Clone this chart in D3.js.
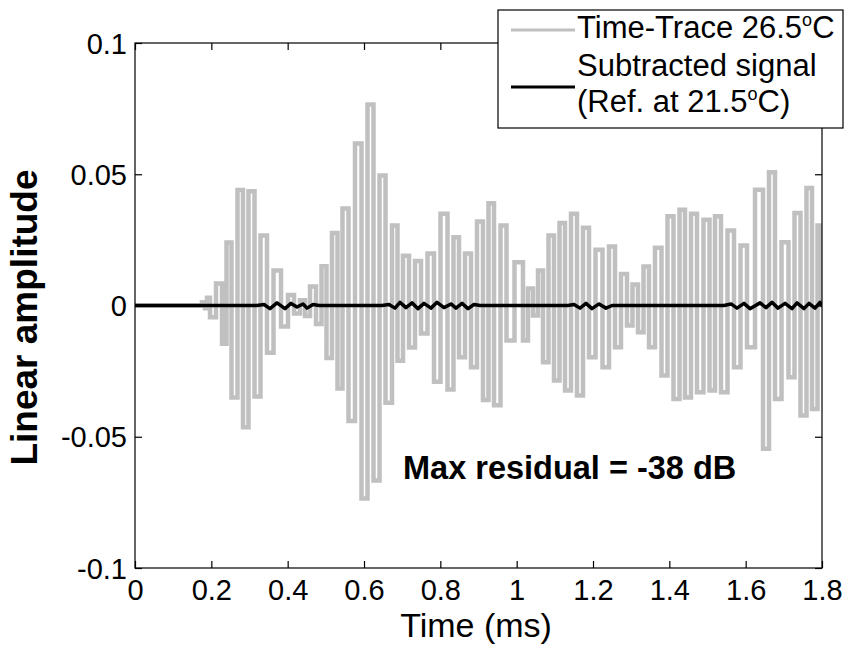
<!DOCTYPE html>
<html>
<head>
<meta charset="utf-8">
<script src="https://cdn.jsdelivr.net/npm/d3@7"></script>
<style>
  html, body { margin: 0; padding: 0; background: #fff; }
  svg { display: block; font-family: "Liberation Sans", Arial, Helvetica, sans-serif; }
</style>
</head>
<body>
<svg id="chart" width="848" height="646"></svg>
<script>
// ---- data ----
const timeMs = [
  0, 0.1703, 0.1808, 0.1860, 0.1913, 0.2017, 0.2227, 0.2332, 0.2463, 0.2594,
  0.2777, 0.2882, 0.3066, 0.3197, 0.3380, 0.3537, 0.3721, 0.3930, 0.4087, 0.4245,
  0.4402, 0.4507, 0.4664, 0.4821, 0.4952, 0.5083, 0.5240, 0.5371, 0.5502, 0.5686,
  0.5843, 0.6026, 0.6157, 0.6341, 0.6472, 0.6655, 0.6812, 0.6943, 0.7100, 0.7258,
  0.7415, 0.7572, 0.7755, 0.7913, 0.8096, 0.8279, 0.8410, 0.8568, 0.8725, 0.8882,
  0.9039, 0.9196, 0.9328, 0.9485, 0.9668, 0.9799, 1.0087, 1.0244, 1.0349, 1.0507,
  1.0611, 1.0769, 1.0900, 1.1057, 1.1188, 1.1345, 1.1502, 1.1659, 1.1817, 1.1974,
  1.2157, 1.2341, 1.2498, 1.2655, 1.2812, 1.2969, 1.3100, 1.3258, 1.3389, 1.3546,
  1.3703, 1.3886, 1.4017, 1.4201, 1.4332, 1.4489, 1.4646, 1.4803, 1.4987, 1.5118,
  1.5275, 1.5432, 1.5616, 1.5773, 1.5956, 1.6114, 1.6376, 1.6533, 1.6690, 1.6847,
  1.7031, 1.7214, 1.7345, 1.7528, 1.7659, 1.7817, 1.7948, 1.8
];
const traceAmp = [
  0, 0, 0.0012, -0.0010, 0.0030, -0.0045, 0.0084, -0.0146, 0.0240, -0.0350,
  0.0440, -0.0464, 0.0435, -0.0347, 0.0267, -0.0180, 0.0133, -0.0080, 0.0040, -0.0030,
  0.0020, -0.0040, 0.0072, -0.0070, 0.0150, -0.0200, 0.0276, -0.0316, 0.0370, -0.0440,
  0.0617, -0.0735, 0.0766, -0.0667, 0.0495, -0.0370, 0.0305, -0.0210, 0.0190, -0.0160,
  0.0170, -0.0107, 0.0198, -0.0290, 0.0350, -0.0320, 0.0260, -0.0197, 0.0198, -0.0235,
  0.0320, -0.0360, 0.0390, -0.0380, 0.0305, -0.0133, 0.0165, -0.0133, 0.0065, -0.0038,
  0.0133, -0.0216, 0.0267, -0.0286, 0.0314, -0.0324, 0.0350, -0.0343, 0.0296, -0.0197,
  0.0212, -0.0235, 0.0225, -0.0159, 0.0120, -0.0076, 0.0080, -0.0102, 0.0149, -0.0159,
  0.0220, -0.0267, 0.0340, -0.0356, 0.0365, -0.0350, 0.0350, -0.0330, 0.0327, -0.0324,
  0.0340, -0.0330, 0.0286, -0.0235, 0.0229, -0.0159, 0.0441, -0.0546, 0.0508, -0.0356,
  0.0241, -0.0273, 0.0352, -0.0419, 0.0448, -0.0394, 0.0305, 0
];
const residualAmp = [
  0, 0, 0, 0, 0, 0, 0, 0, 0, 0,
  0, 0, 0, 0, 0.0004, -0.0012, 0.0010, -0.0012, 0.0008, -0.0006,
  0.0006, -0.0010, 0.0004, 0, 0, 0, 0, 0, 0, 0,
  0, 0, 0, 0, 0, 0.0004, -0.0010, 0.0012, -0.0008, 0.0010,
  -0.0012, 0.0008, -0.0010, 0.0012, -0.0008, 0.0006, -0.0010, 0.0008, -0.0012, 0.0004,
  0, 0, 0, 0, 0, 0, 0, 0, 0, 0,
  0, 0, 0, 0, 0, 0, 0.0004, -0.0010, 0.0008, -0.0012,
  0.0006, -0.0010, 0, 0, 0, 0, 0, 0, 0, 0,
  0, 0, 0, 0, 0, 0, 0, 0, 0, 0,
  0, 0, 0.0006, -0.0010, 0.0008, -0.0012, 0.0010, -0.0008, 0.0012, -0.0010,
  0.0008, -0.0012, 0.0010, -0.0012, 0.0008, -0.0010, 0.0012, 0
];
const xTicks = [0, 0.2, 0.4, 0.6, 0.8, 1, 1.2, 1.4, 1.6, 1.8];
const xTickLabels = ["0", "0.2", "0.4", "0.6", "0.8", "1", "1.2", "1.4", "1.6", "1.8"];
const yTicks = [-0.1, -0.05, 0, 0.05, 0.1];
const yTickLabels = ["-0.1", "-0.05", "0", "0.05", "0.1"];
const seriesNames = ["Time-Trace 26.5", "Subtracted signal", "(Ref. at 21.5"];
const annotation = "Max residual = -38 dB";

// ---- layout ----
const L = 135, R = 822, T = 43, B = 568;
const svg = d3.select("#chart");
const x = d3.scaleLinear().domain([0, 1.8]).range([L, R]);
const y = d3.scaleLinear().domain([-0.1, 0.1]).range([B, T]);
const fs = 29;

svg.append("defs").append("clipPath").attr("id", "clip")
  .append("rect").attr("x", L).attr("y", T).attr("width", R - L).attr("height", B - T);

const plot = svg.append("g").attr("clip-path", "url(#clip)");
const traceLine = d3.line().curve(d3.curveStep)
  .x((d, i) => x(timeMs[i])).y(d => y(d));
plot.append("path").attr("d", traceLine(traceAmp))
  .attr("fill", "none").attr("stroke", "#c0c0c0").attr("stroke-width", 4.5)
  .attr("stroke-linejoin", "miter");
const residLine = d3.line().x((d, i) => x(timeMs[i])).y(d => y(d || 0));
plot.append("path").attr("d", residLine(residualAmp))
  .attr("fill", "none").attr("stroke", "#000").attr("stroke-width", 3.5)
  .attr("stroke-linejoin", "round");

// ---- axes (inward ticks on all four sides) ----
const tick = 7;
const gx = svg.append("g").attr("transform", `translate(0,${B})`)
  .call(d3.axisBottom(x).tickValues(xTicks).tickSize(-tick).tickFormat((d, i) => xTickLabels[i]));
const gxt = svg.append("g").attr("transform", `translate(0,${T})`)
  .call(d3.axisTop(x).tickValues(xTicks).tickSize(-tick).tickFormat(""));
const gy = svg.append("g").attr("transform", `translate(${L},0)`)
  .call(d3.axisLeft(y).tickValues(yTicks).tickSize(-tick).tickFormat((d, i) => yTickLabels[i]));
const gyr = svg.append("g").attr("transform", `translate(${R},0)`)
  .call(d3.axisRight(y).tickValues(yTicks).tickSize(-tick).tickFormat(""));
[gx, gxt, gy, gyr].forEach(g => {
  g.select(".domain").remove();
  g.selectAll("line").attr("stroke", "#000").attr("stroke-width", 1.2);
});
gx.selectAll("text").attr("y", 32).attr("dy", 0)
  .attr("font-size", fs).attr("font-family", "Liberation Sans, Arial, sans-serif").attr("fill", "#000");
gy.selectAll("text").attr("x", -8).attr("dy", "0.35em")
  .attr("font-size", fs).attr("font-family", "Liberation Sans, Arial, sans-serif").attr("fill", "#000");

svg.append("rect").attr("x", L).attr("y", T).attr("width", R - L).attr("height", B - T)
  .attr("fill", "none").attr("stroke", "#000").attr("stroke-width", 1.2);

// ---- axis labels ----
svg.append("text").attr("x", 476).attr("y", 637).attr("text-anchor", "middle")
  .attr("font-size", 34).text("Time (ms)");
svg.append("text").attr("transform", `translate(37,${(T + B) / 2 + 12}) rotate(-90)`)
  .attr("text-anchor", "middle").attr("font-size", 37).attr("font-weight", "bold")
  .text("Linear amplitude");

// ---- annotation ----
svg.append("text").attr("x", 403).attr("y", 479).attr("font-size", 32.5)
  .attr("font-weight", "bold").text(annotation);

// ---- legend ----
const lg = svg.append("g");
lg.append("rect").attr("x", 498).attr("y", 10).attr("width", 345).attr("height", 118)
  .attr("fill", "#fff").attr("stroke", "#000").attr("stroke-width", 1.2);
lg.append("line").attr("x1", 511).attr("x2", 575).attr("y1", 30).attr("y2", 30)
  .attr("stroke", "#c0c0c0").attr("stroke-width", 3);
lg.append("line").attr("x1", 511).attr("x2", 575).attr("y1", 87).attr("y2", 87)
  .attr("stroke", "#000").attr("stroke-width", 3);
const lfs = 31;
function degText(g, xx, yy, before, after) {
  const t = g.append("text").attr("x", xx).attr("y", yy).attr("font-size", lfs);
  t.append("tspan").text(before);
  t.append("tspan").attr("font-size", 18).attr("dy", -12).text("o");
  t.append("tspan").attr("dy", 12).text(after);
}
degText(lg, 577, 38, seriesNames[0], "C");
lg.append("text").attr("x", 577).attr("y", 76).attr("font-size", lfs).text(seriesNames[1]);
degText(lg, 577, 112, seriesNames[2], "C)");
</script>
</body>
</html>
